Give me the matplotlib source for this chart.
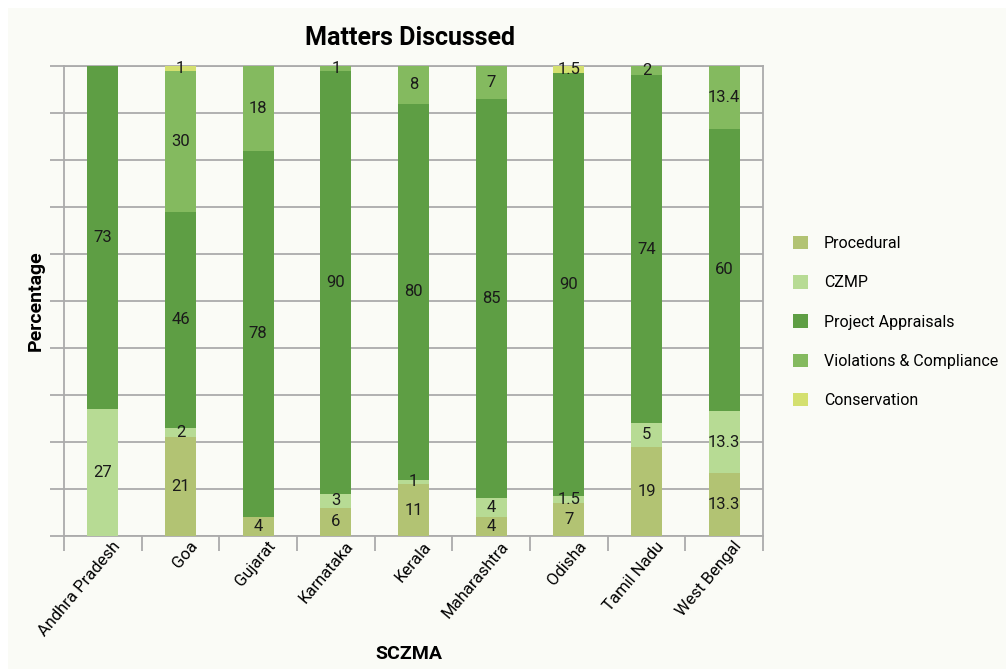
import matplotlib.pyplot as plt
import matplotlib.transforms as mtransforms
import numpy as np
from matplotlib.patches import Rectangle

plt.rcParams['font.family'] = ['Roboto', 'DejaVu Sans']

states = ['Andhra Pradesh', 'Goa', 'Gujarat', 'Karnataka', 'Kerala',
          'Maharashtra', 'Odisha', 'Tamil Nadu', 'West Bengal']
procedural = [0, 21, 4, 6, 11, 4, 7, 19, 13.3]
czmp = [27, 2, 0, 3, 1, 4, 1.5, 5, 13.3]
appraisals = [73, 46, 78, 90, 80, 85, 90, 74, 60]
violations = [0, 30, 18, 1, 8, 7, 0, 2, 13.4]
conservation = [0, 1, 0, 0, 0, 0, 1.5, 0, 0]

series = [
    ('Procedural', procedural, '#B2C373'),
    ('CZMP', czmp, '#B7DB94'),
    ('Project Appraisals', appraisals, '#5E9E44'),
    ('Violations & Compliance', violations, '#84BA5F'),
    ('Conservation', conservation, '#D4E06F'),
]

fig = plt.figure(figsize=(10.06, 6.69), dpi=100, facecolor='white')
fig.patches.append(Rectangle((8 / 1006, 0), 1, 1 - 8 / 669, transform=fig.transFigure,
                             facecolor='#FAFBF6', edgecolor='none', zorder=-10))
ax = fig.add_axes([64 / 1006, 1 - 536 / 669, 699 / 1006, 470 / 669])
ax.set_facecolor('#FAFBF6')

x = np.arange(len(states))
totals = np.sum([s[1] for s in series], axis=0)
bottom = np.zeros(len(states))
handles = []
for name, vals, color in series:
    vals = np.array(vals, dtype=float)
    pct = vals / totals * 100
    bars = ax.bar(x, pct, 0.4, bottom=bottom, color=color, label=name, zorder=3)
    labels = [('%g' % v if v > 0 else '') for v in vals]
    ax.bar_label(bars, labels=labels, label_type='center', fontsize=12,
                 color='#1a1a1a', zorder=4)
    bottom += pct
    handles.append(bars)

ax.set_xlim(-0.5, len(states) - 0.5)
ax.set_ylim(0, 100)
ax.set_yticks(np.arange(0, 101, 10))
ax.set_yticklabels([])
ax.yaxis.grid(True, color='#ABABAB', linewidth=1.3, zorder=0)
ax.tick_params(axis='y', length=10, color='#ABABAB', width=1.3)
ax.set_xticks(np.arange(-0.5, len(states), 1))
ax.set_xticklabels([])
ax.set_xticks(x, minor=True)
ax.set_xticklabels(states, minor=True, rotation=50, ha='right', rotation_mode='anchor',
                   fontsize=12)
ax.tick_params(axis='x', which='major', length=11, color='#ABABAB', width=1.3)
ax.tick_params(axis='x', which='minor', length=0, pad=2)
shift = mtransforms.ScaledTranslation(9 / 100, 0, fig.dpi_scale_trans)
for lbl in ax.get_xticklabels(minor=True):
    lbl.set_transform(lbl.get_transform() + shift)
for sp in ax.spines.values():
    sp.set_color('#ABABAB')
    sp.set_linewidth(1.3)

ax.set_xlabel('SCZMA', fontsize=14, fontweight='bold')
ax.xaxis.set_label_coords(0.493, -0.232)
ax.set_ylabel('Percentage', fontsize=14, fontweight='bold')
ax.yaxis.set_label_coords(-0.027, 0.5)
fig.text(410 / 1006, 1 - 38 / 669, 'Matters Discussed', fontsize=18, fontweight='bold',
         ha='center', va='center')

fig.legend(handles=handles, loc='center left', bbox_to_anchor=(779 / 1006, 1 - 322 / 669),
           frameon=False, fontsize=11.5, labelspacing=1.5, handlelength=0.9,
           handleheight=0.9, handletextpad=1.0)

fig.savefig('out.png', dpi=100, facecolor=fig.get_facecolor())
